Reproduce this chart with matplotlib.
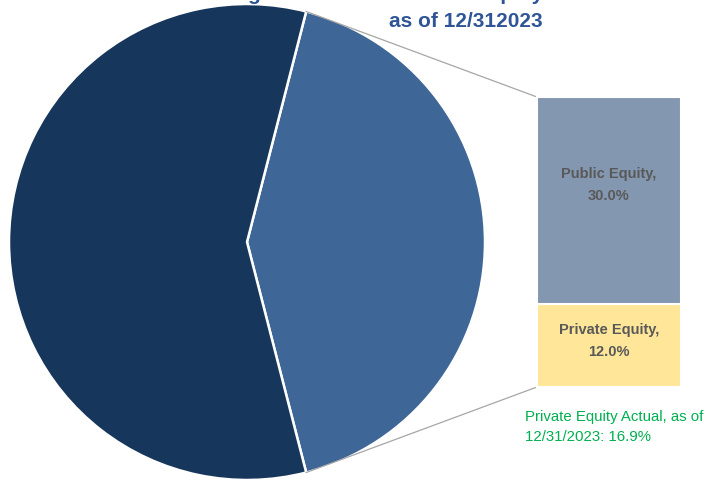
import numpy as np
import matplotlib
matplotlib.use("Agg")
import matplotlib.pyplot as plt

# ---- data ----
pie_labels = ["Equity", "Other"]
pie_values = [42.0, 58.0]
bar_labels = ["Private Equity", "Public Equity"]
bar_values = [12.0, 30.0]
title_line1 = "Target Asset Allocation to Equity"
title_line2 = "as of 12/312023"
note_lines = ["Private Equity Actual, as of", "12/31/2023: 16.9%"]

# ---- style ----
pie_colors = ["#3E6696", "#17365C"]
bar_colors = ["#FFE699", "#8497B0"]
label_shift = [7, 18]  # px the label block sits above the bar middle
FONT = ["Liberation Sans", "DejaVu Sans"]
H = 481
W = 706

fig = plt.figure(figsize=(W / 100, H / 100), dpi=100)
ax = fig.add_axes([0, 0, 1, 1])

cx, cy, r = 247, H - 243, 238
half = pie_values[0] / 100 * 360 / 2
ax.pie(pie_values, colors=pie_colors, startangle=-half, center=(cx, cy), radius=r,
       wedgeprops=dict(edgecolor="white", linewidth=1.8), frame=True)
ax.set_xlim(0, W)
ax.set_ylim(0, H)
ax.set_aspect("equal")
ax.axis("off")

# bar of pie
bx0, bx1 = 537, 681
bbot = H - 388
btop = H - 98
scale = (btop - bbot) / sum(bar_values)
bottom = bbot
for lab, v, c, sh in zip(bar_labels, bar_values, bar_colors, label_shift):
    ax.bar((bx0 + bx1) / 2, v * scale, width=bx1 - bx0, bottom=bottom, color=c,
           edgecolor="white", linewidth=1.5, zorder=3)
    mid = bottom + v * scale / 2 + sh
    ax.text((bx0 + bx1) / 2, mid + 6, f"{lab},", ha="center", va="baseline",
            fontsize=10.5, fontweight="bold", color="#595959", family=FONT, zorder=4)
    ax.text((bx0 + bx1) / 2, mid - 16, f"{v:.1f}%", ha="center", va="baseline",
            fontsize=10.5, fontweight="bold", color="#595959", family=FONT, zorder=4)
    bottom += v * scale

# connector lines
a = np.deg2rad(half)
px, py = cx + r * np.cos(a), cy + r * np.sin(a)
ax.plot([px, bx0], [py, btop], color="#A6A6A6", lw=0.9, zorder=2)
ax.plot([px, bx0], [cy - r * np.sin(a), bbot], color="#A6A6A6", lw=0.9, zorder=2)

# note
for i, line in enumerate(note_lines):
    ax.text(525, H - 421 - 20 * i, line, ha="left", va="baseline", fontsize=10.8,
            color="#00B050", family=FONT)

# title (first line mostly cut off by the top edge)
ax.text(543, H - 27, title_line2, ha="right", va="baseline", fontsize=15, fontweight="bold",
        color="#2F5597", family=FONT, zorder=5)
ax.text(543, H + 0.5, title_line1, ha="right", va="baseline", fontsize=15, fontweight="bold",
        color="#2F5597", family=FONT, zorder=5)

fig.savefig("out.png", dpi=100)
